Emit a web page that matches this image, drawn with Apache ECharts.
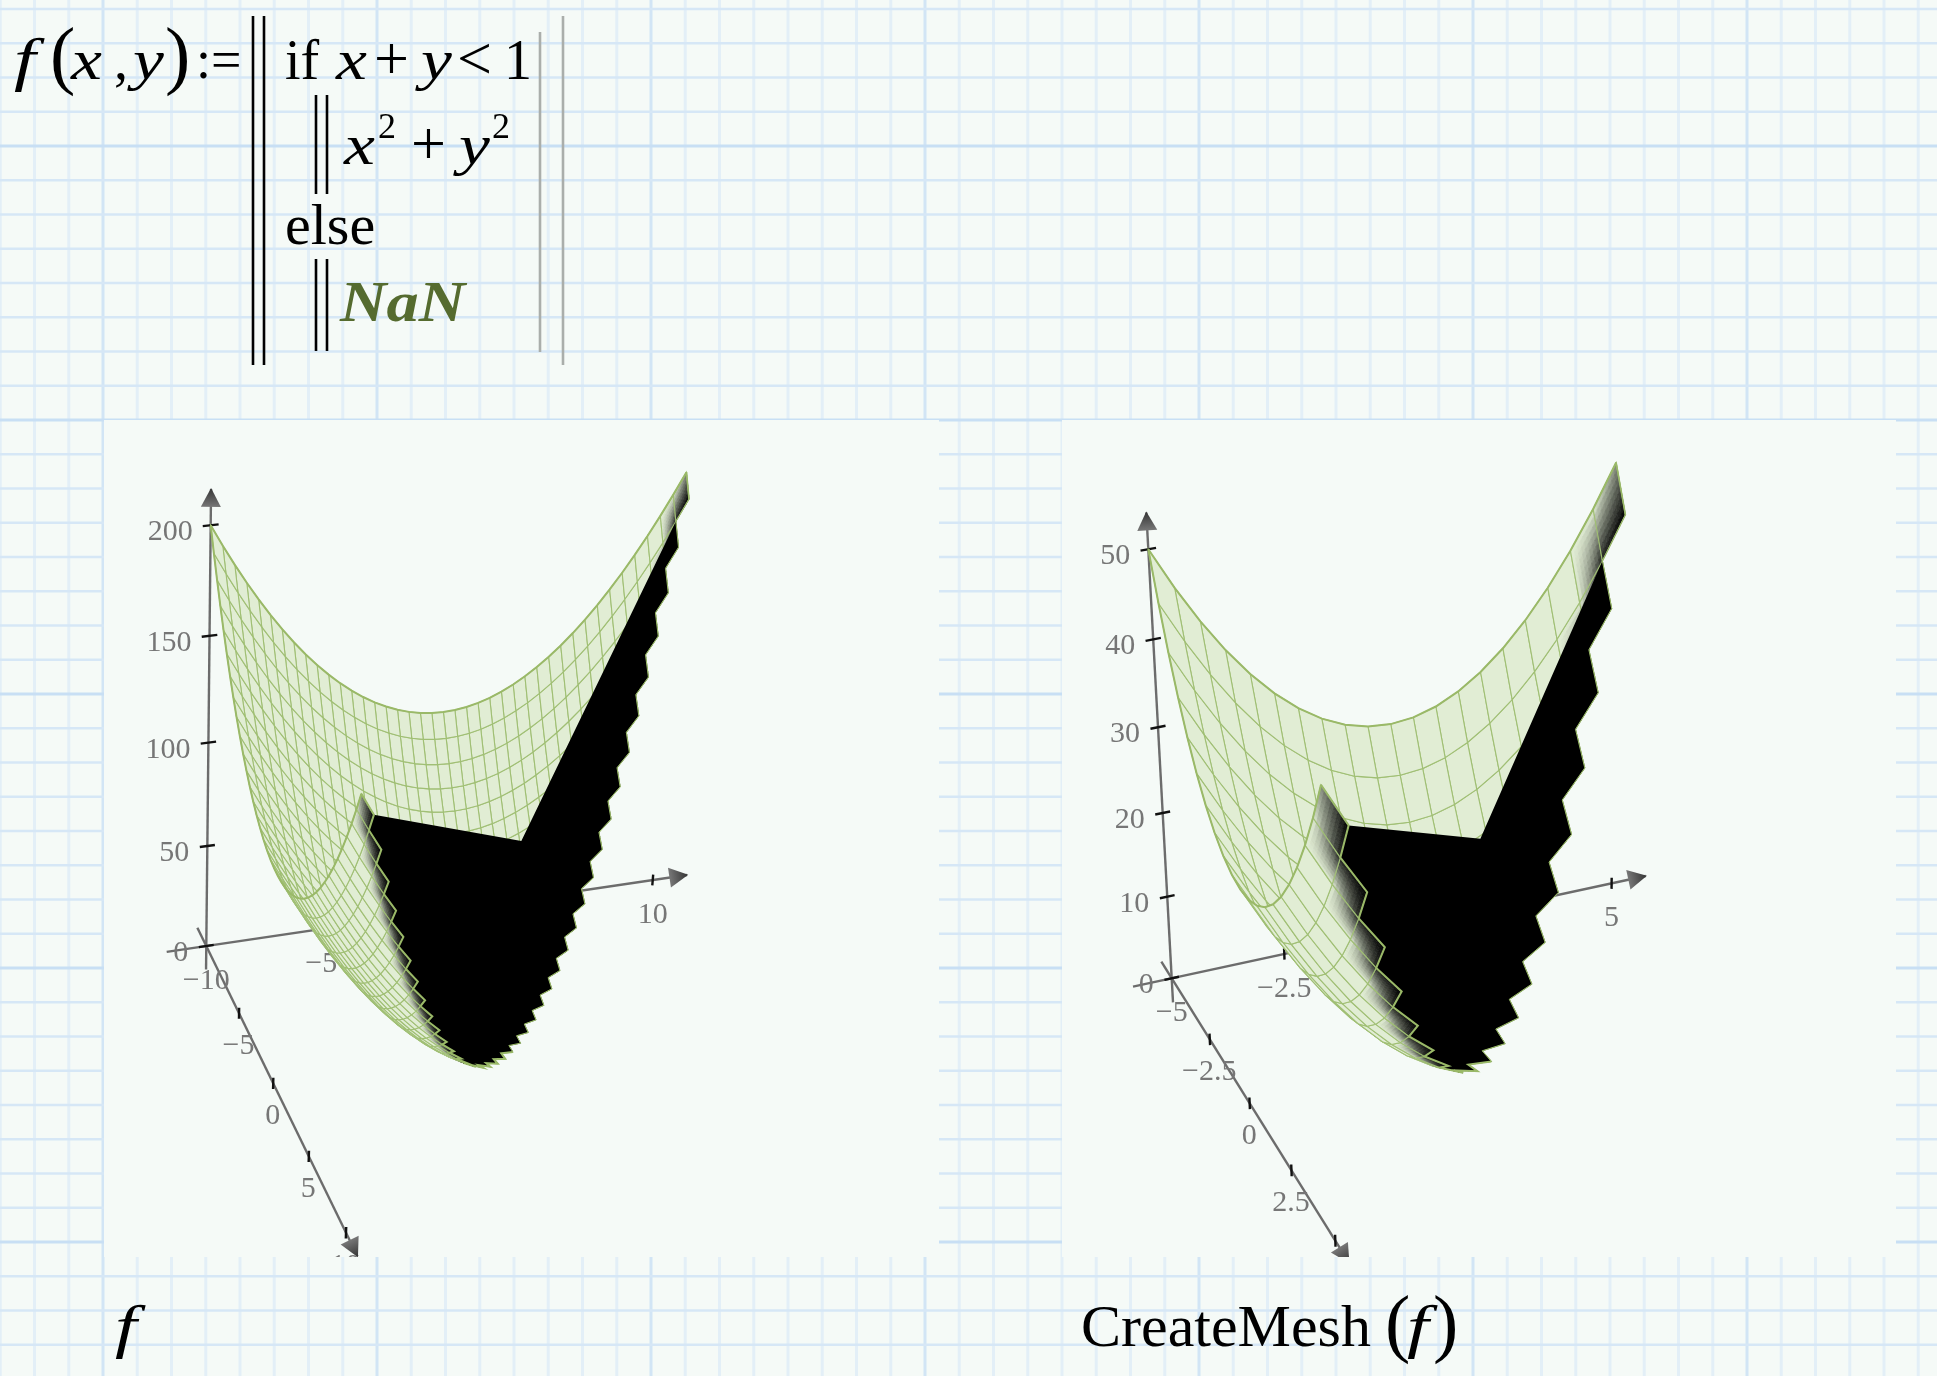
<!DOCTYPE html>
<html><head><meta charset="utf-8"><style>html,body{margin:0;padding:0;background:#f5faf7}#c{width:1937px;height:1376px}</style>
<script src="https://cdn.jsdelivr.net/npm/echarts@6/dist/echarts.min.js"></script></head><body><div id="c"></div>
<script>
// Mesh positions of the left chart (f): x index = row, y index = column
const gridF = [-10,-9.5,-9,-8.5,-8,-7.5,-7,-6.5,-6,-5.5,-5,-4.5,-4,-3.5,-3,-2.5,-2,-1.5,-1,-0.5,0,0.5,1,1.5,2,2.5,3,3.5,4,4.5,5,5.5,6,6.5,7,7.5,8,8.5,9,9.5,10];
// Mesh positions of the right chart (CreateMesh(f))
const gridMesh = [-5,-4.5,-4,-3.5,-3,-2.5,-2,-1.5,-1,-0.5,0,0.5,1,1.5,2,2.5,3,3.5,4,4.5,5];
// Heights: each row stops where x+y reaches 1 (NaN past that point)
const zRowsF = [
[200,190.25,181,172.25,164,156.25,149,142.25,136,130.25,125,120.25,116,112.25,109,106.25,104,102.25,101,100.25,100,100.25,101,102.25,104,106.25,109,112.25,116,120.25,125,130.25,136,142.25,149,156.25,164,172.25,181,190.25,200],
[190.25,180.5,171.25,162.5,154.25,146.5,139.25,132.5,126.25,120.5,115.25,110.5,106.25,102.5,99.25,96.5,94.25,92.5,91.25,90.5,90.25,90.5,91.25,92.5,94.25,96.5,99.25,102.5,106.25,110.5,115.25,120.5,126.25,132.5,139.25,146.5,154.25,162.5,171.25,180.5,190.25],
[181,171.25,162,153.25,145,137.25,130,123.25,117,111.25,106,101.25,97,93.25,90,87.25,85,83.25,82,81.25,81,81.25,82,83.25,85,87.25,90,93.25,97,101.25,106,111.25,117,123.25,130,137.25,145,153.25,162,171.25],
[172.25,162.5,153.25,144.5,136.25,128.5,121.25,114.5,108.25,102.5,97.25,92.5,88.25,84.5,81.25,78.5,76.25,74.5,73.25,72.5,72.25,72.5,73.25,74.5,76.25,78.5,81.25,84.5,88.25,92.5,97.25,102.5,108.25,114.5,121.25,128.5,136.25,144.5,153.25],
[164,154.25,145,136.25,128,120.25,113,106.25,100,94.25,89,84.25,80,76.25,73,70.25,68,66.25,65,64.25,64,64.25,65,66.25,68,70.25,73,76.25,80,84.25,89,94.25,100,106.25,113,120.25,128,136.25],
[156.25,146.5,137.25,128.5,120.25,112.5,105.25,98.5,92.25,86.5,81.25,76.5,72.25,68.5,65.25,62.5,60.25,58.5,57.25,56.5,56.25,56.5,57.25,58.5,60.25,62.5,65.25,68.5,72.25,76.5,81.25,86.5,92.25,98.5,105.25,112.5,120.25],
[149,139.25,130,121.25,113,105.25,98,91.25,85,79.25,74,69.25,65,61.25,58,55.25,53,51.25,50,49.25,49,49.25,50,51.25,53,55.25,58,61.25,65,69.25,74,79.25,85,91.25,98,105.25],
[142.25,132.5,123.25,114.5,106.25,98.5,91.25,84.5,78.25,72.5,67.25,62.5,58.25,54.5,51.25,48.5,46.25,44.5,43.25,42.5,42.25,42.5,43.25,44.5,46.25,48.5,51.25,54.5,58.25,62.5,67.25,72.5,78.25,84.5,91.25],
[136,126.25,117,108.25,100,92.25,85,78.25,72,66.25,61,56.25,52,48.25,45,42.25,40,38.25,37,36.25,36,36.25,37,38.25,40,42.25,45,48.25,52,56.25,61,66.25,72,78.25],
[130.25,120.5,111.25,102.5,94.25,86.5,79.25,72.5,66.25,60.5,55.25,50.5,46.25,42.5,39.25,36.5,34.25,32.5,31.25,30.5,30.25,30.5,31.25,32.5,34.25,36.5,39.25,42.5,46.25,50.5,55.25,60.5,66.25],
[125,115.25,106,97.25,89,81.25,74,67.25,61,55.25,50,45.25,41,37.25,34,31.25,29,27.25,26,25.25,25,25.25,26,27.25,29,31.25,34,37.25,41,45.25,50,55.25],
[120.25,110.5,101.25,92.5,84.25,76.5,69.25,62.5,56.25,50.5,45.25,40.5,36.25,32.5,29.25,26.5,24.25,22.5,21.25,20.5,20.25,20.5,21.25,22.5,24.25,26.5,29.25,32.5,36.25,40.5,45.25],
[116,106.25,97,88.25,80,72.25,65,58.25,52,46.25,41,36.25,32,28.25,25,22.25,20,18.25,17,16.25,16,16.25,17,18.25,20,22.25,25,28.25,32,36.25],
[112.25,102.5,93.25,84.5,76.25,68.5,61.25,54.5,48.25,42.5,37.25,32.5,28.25,24.5,21.25,18.5,16.25,14.5,13.25,12.5,12.25,12.5,13.25,14.5,16.25,18.5,21.25,24.5,28.25],
[109,99.25,90,81.25,73,65.25,58,51.25,45,39.25,34,29.25,25,21.25,18,15.25,13,11.25,10,9.25,9,9.25,10,11.25,13,15.25,18,21.25],
[106.25,96.5,87.25,78.5,70.25,62.5,55.25,48.5,42.25,36.5,31.25,26.5,22.25,18.5,15.25,12.5,10.25,8.5,7.25,6.5,6.25,6.5,7.25,8.5,10.25,12.5,15.25],
[104,94.25,85,76.25,68,60.25,53,46.25,40,34.25,29,24.25,20,16.25,13,10.25,8,6.25,5,4.25,4,4.25,5,6.25,8,10.25],
[102.25,92.5,83.25,74.5,66.25,58.5,51.25,44.5,38.25,32.5,27.25,22.5,18.25,14.5,11.25,8.5,6.25,4.5,3.25,2.5,2.25,2.5,3.25,4.5,6.25],
[101,91.25,82,73.25,65,57.25,50,43.25,37,31.25,26,21.25,17,13.25,10,7.25,5,3.25,2,1.25,1,1.25,2,3.25],
[100.25,90.5,81.25,72.5,64.25,56.5,49.25,42.5,36.25,30.5,25.25,20.5,16.25,12.5,9.25,6.5,4.25,2.5,1.25,0.5,0.25,0.5,1.25],
[100,90.25,81,72.25,64,56.25,49,42.25,36,30.25,25,20.25,16,12.25,9,6.25,4,2.25,1,0.25,0,0.25],
[100.25,90.5,81.25,72.5,64.25,56.5,49.25,42.5,36.25,30.5,25.25,20.5,16.25,12.5,9.25,6.5,4.25,2.5,1.25,0.5,0.25],
[101,91.25,82,73.25,65,57.25,50,43.25,37,31.25,26,21.25,17,13.25,10,7.25,5,3.25,2,1.25],
[102.25,92.5,83.25,74.5,66.25,58.5,51.25,44.5,38.25,32.5,27.25,22.5,18.25,14.5,11.25,8.5,6.25,4.5,3.25],
[104,94.25,85,76.25,68,60.25,53,46.25,40,34.25,29,24.25,20,16.25,13,10.25,8,6.25],
[106.25,96.5,87.25,78.5,70.25,62.5,55.25,48.5,42.25,36.5,31.25,26.5,22.25,18.5,15.25,12.5,10.25],
[109,99.25,90,81.25,73,65.25,58,51.25,45,39.25,34,29.25,25,21.25,18,15.25],
[112.25,102.5,93.25,84.5,76.25,68.5,61.25,54.5,48.25,42.5,37.25,32.5,28.25,24.5,21.25],
[116,106.25,97,88.25,80,72.25,65,58.25,52,46.25,41,36.25,32,28.25],
[120.25,110.5,101.25,92.5,84.25,76.5,69.25,62.5,56.25,50.5,45.25,40.5,36.25],
[125,115.25,106,97.25,89,81.25,74,67.25,61,55.25,50,45.25],
[130.25,120.5,111.25,102.5,94.25,86.5,79.25,72.5,66.25,60.5,55.25],
[136,126.25,117,108.25,100,92.25,85,78.25,72,66.25],
[142.25,132.5,123.25,114.5,106.25,98.5,91.25,84.5,78.25],
[149,139.25,130,121.25,113,105.25,98,91.25],
[156.25,146.5,137.25,128.5,120.25,112.5,105.25],
[164,154.25,145,136.25,128,120.25],
[172.25,162.5,153.25,144.5,136.25],
[181,171.25,162,153.25],
[190.25,180.5,171.25],
[200,190.25]
];
const zRowsMesh = [
[50,45.25,41,37.25,34,31.25,29,27.25,26,25.25,25,25.25,26,27.25,29,31.25,34,37.25,41,45.25,50],
[45.25,40.5,36.25,32.5,29.25,26.5,24.25,22.5,21.25,20.5,20.25,20.5,21.25,22.5,24.25,26.5,29.25,32.5,36.25,40.5,45.25],
[41,36.25,32,28.25,25,22.25,20,18.25,17,16.25,16,16.25,17,18.25,20,22.25,25,28.25,32,36.25],
[37.25,32.5,28.25,24.5,21.25,18.5,16.25,14.5,13.25,12.5,12.25,12.5,13.25,14.5,16.25,18.5,21.25,24.5,28.25],
[34,29.25,25,21.25,18,15.25,13,11.25,10,9.25,9,9.25,10,11.25,13,15.25,18,21.25],
[31.25,26.5,22.25,18.5,15.25,12.5,10.25,8.5,7.25,6.5,6.25,6.5,7.25,8.5,10.25,12.5,15.25],
[29,24.25,20,16.25,13,10.25,8,6.25,5,4.25,4,4.25,5,6.25,8,10.25],
[27.25,22.5,18.25,14.5,11.25,8.5,6.25,4.5,3.25,2.5,2.25,2.5,3.25,4.5,6.25],
[26,21.25,17,13.25,10,7.25,5,3.25,2,1.25,1,1.25,2,3.25],
[25.25,20.5,16.25,12.5,9.25,6.5,4.25,2.5,1.25,0.5,0.25,0.5,1.25],
[25,20.25,16,12.25,9,6.25,4,2.25,1,0.25,0,0.25],
[25.25,20.5,16.25,12.5,9.25,6.5,4.25,2.5,1.25,0.5,0.25],
[26,21.25,17,13.25,10,7.25,5,3.25,2,1.25],
[27.25,22.5,18.25,14.5,11.25,8.5,6.25,4.5,3.25],
[29,24.25,20,16.25,13,10.25,8,6.25],
[31.25,26.5,22.25,18.5,15.25,12.5,10.25],
[34,29.25,25,21.25,18,15.25],
[37.25,32.5,28.25,24.5,21.25],
[41,36.25,32,28.25],
[45.25,40.5,36.25],
[50,45.25]
];
// The point the black NaN area folds around: x, y, height
const foldF = [0,0,100];
const foldMesh = [0,0,25];
// Axis ticks and labels
const xTicksF = [-10,-5,0,5,10];
const yTicksF = [-10,-5,0,5,10];
const zTicksF = [0,50,100,150,200];
const xTicksMesh = [-5,-2.5,0,2.5,5];
const yTicksMesh = [-5,-2.5,0,2.5,5];
const zTicksMesh = [0,10,20,30,40,50];

const SERIF = '"Liberation Serif","Times New Roman",serif';
const PAPER='#f5faf7', FILL=[225,237,212], LINE='#a0bf74', EDGE='#9ab968', AXIS='#6c6c6c', LABEL='#767676';
const plots = [
 {grid:1,rect:[104,420,835,837],xs:gridF,ys:gridF,rows:zRowsF,fold:foldF,xT:xTicksF,yT:yTicksF,zT:zTicksF,zMax:200,
  cam:{ox:206.3,oy:946,ax:464.3,ay:-68.6,bx:128.4,by:263.5,cx:4.1,cy:-393.6,g:.04,h:-.081,i:-.0645},
  fmt:v=>String(v).replace('-','\u2212')},
 {grid:2,rect:[1062,420,834,837],xs:gridMesh,ys:gridMesh,rows:zRowsMesh,fold:foldMesh,xT:xTicksMesh,yT:yTicksMesh,zT:zTicksMesh,zMax:50,
  cam:{ox:1171.7,oy:978.3,ax:454,ay:-98,bx:148.9,by:238.8,cx:-22,cy:-403.3,g:.032,h:-.09,i:-.06},
  fmt:v=>String(v).replace('-','\u2212')}
];
function makeItems(P){
 const c=P.cam,n=P.xs.length,lo=P.xs[0],span=P.xs[n-1]-lo;
 const den=(u,v,w)=>1+c.g*u+c.h*v+c.i*w;
 const pr=(u,v,w)=>{const d=den(u,v,w);return [c.ox+(c.ax*u+c.bx*v+c.cx*w)/d,c.oy+(c.ay*u+c.by*v+c.cy*w)/d];};
 const U=x=>(x-lo)/span;
 const vert=(i,j)=>pr(U(P.xs[i]),U(P.ys[j]),P.rows[i][j]/P.zMax);
 const items=[];
 const axis=(a,b)=>api=>({type:'line',shape:{x1:api.coord(a)[0],y1:api.coord(a)[1],x2:api.coord(b)[0],y2:api.coord(b)[1]},style:{stroke:AXIS,lineWidth:2.4}});
 const tick=(a,b)=>api=>({type:'line',shape:{x1:api.coord(a)[0],y1:api.coord(a)[1],x2:api.coord(b)[0],y2:api.coord(b)[1]},style:{stroke:'#111',lineWidth:2.4}});
 const arrow=(from,tip)=>api=>{
  const t=api.coord(tip),f=api.coord(from);let dx=t[0]-f[0],dy=t[1]-f[1];const l=Math.hypot(dx,dy);dx/=l;dy/=l;
  const bx=t[0]-dx*19,by=t[1]-dy*19;
  return {type:'polygon',shape:{points:[t,[bx-dy*10,by+dx*10],[bx+dy*10,by-dx*10]]},
   style:{fill:{type:'linear',global:true,x:t[0],y:t[1],x2:bx,y2:by,colorStops:[{offset:0,color:'#333'},{offset:1,color:'#777'}]}}};
 };
 const text=(s,at,dx,dy,align)=>api=>{const p=api.coord(at);return {type:'text',style:{text:s,x:p[0]+dx,y:p[1]+dy,font:'30px '+SERIF,fill:LABEL,textAlign:align,textVerticalAlign:'middle'}};};
 items.push(axis(pr(-.085,0,0),pr(1.08,0,0)),axis(pr(0,-.07,0),pr(0,1.075,0)),axis(pr(0,0,-.06),pr(0,0,1.08)));
 items.push(arrow(pr(0.9,0,0),pr(1.083,0,0)),arrow(pr(0,.9,0),pr(0,1.078,0)),arrow(pr(0,0,.9),pr(0,0,1.0825)));
 P.zT.forEach(z=>{const w=z/P.zMax;items.push(tick(pr(-.016,0,w),pr(.016,0,w)),text(P.fmt(z),pr(0,0,w),-18,7,'right'));});
 P.xT.forEach(x=>{const u=U(x);if(u>0)items.push(tick(pr(u,0,-.014),pr(u,0,.014)));items.push(text(P.fmt(x),pr(u,0,0),0,35,'center'));});
 P.yT.forEach(y=>{const v=U(y);if(v>0){items.push(tick(pr(0,v,-.014),pr(0,v,.014)),text(P.fmt(y),pr(0,v,0),-.5,33,'center'));}});
 // surface cells, far ones first
 const cells=[];
 for(let i=0;i<n-1;i++)for(let j=0;j<n-1;j++){
  if(j+1<P.rows[i].length&&j+1<P.rows[i+1].length)cells.push([i,j,den(U(P.xs[i]),U(P.ys[j]),P.rows[i][j]/P.zMax)]);
 }
 cells.sort((a,b)=>b[2]-a[2]);
 const dark=(i,j)=>{const s=P.xs[i]+P.ys[j];if(s<0)return 0;if(s>0)return 1;return (i===0||j===0)?.4:.85;};
 const rgb=t=>'rgb('+FILL.map(f=>Math.round(f*(1-t))).join(',')+')';
 cells.forEach(([i,j])=>{
  items.push(api=>{
   const a=vert(i,j),b=vert(i+1,j),d=vert(i+1,j+1),e=vert(i,j+1);
   const da=dark(i,j),db=dark(i+1,j),dd=dark(i+1,j+1),de=dark(i,j+1);
   const outline={type:'polygon',shape:{points:[a,b,d,e].map(p=>api.coord(p))},style:{fill:rgb(0),stroke:LINE,lineWidth:1.1}};
   if(!(da||db||dd||de))return outline;
   const N=8,kids=[];
   outline.style.fill='none';
   const mix=(s,t)=>[0,1].map(q=>(1-s)*(1-t)*a[q]+s*(1-t)*b[q]+s*t*d[q]+(1-s)*t*e[q]);
   for(let p=0;p<N;p++)for(let q=0;q<N;q++){
    const s=(p+.5)/N,t=(q+.5)/N,k=(1-s)*(1-t)*da+s*(1-t)*db+s*t*dd+(1-s)*t*de,col=rgb(k);
    kids.push({type:'polygon',shape:{points:[mix(p/N,q/N),mix((p+1)/N,q/N),mix((p+1)/N,(q+1)/N),mix(p/N,(q+1)/N)].map(x=>api.coord(x))},style:{fill:col,stroke:col,lineWidth:.6}});
   }
   kids.push(outline);
   return {type:'group',children:kids};
  });
 });
 // black NaN area: fold point plus the staircase along the last valid points of every row
 const chain=[];
 for(let i=n-2;i>=1;i--){const L=P.rows[i].length;chain.push(vert(i,L-2),vert(i,L-1));}
 const foldP=pr(U(P.fold[0]),U(P.fold[1]),P.fold[2]/P.zMax);
 items.push(api=>({type:'polygon',shape:{points:[foldP].concat(chain).map(p=>api.coord(p))},style:{fill:'#000'}}));
 const half=Math.floor(chain.length/2);
 items.push(api=>({type:'polyline',shape:{points:[vert(n-1,1)].concat(chain.slice(0,half+1)).map(p=>api.coord(p))},style:{fill:null,stroke:EDGE,lineWidth:1}}));
 items.push(api=>({type:'polyline',shape:{points:chain.slice(half).concat([vert(0,n-1)]).map(p=>api.coord(p))},style:{fill:null,stroke:EDGE,lineWidth:2}}));
 // thicker outer edges of the sheet
 const edge1=[],edge2=[];
 for(let k=0;k<n;k++){edge1.push(vert(k,0));edge2.push(vert(0,k));}
 items.push(api=>({type:'polyline',shape:{points:edge1.map(p=>api.coord(p))},style:{fill:null,stroke:EDGE,lineWidth:2}}));
 items.push(api=>({type:'polyline',shape:{points:edge2.map(p=>api.coord(p))},style:{fill:null,stroke:EDGE,lineWidth:2}}));
 items.push(api=>({type:'line',shape:{x1:api.coord(vert(n-1,0))[0],y1:api.coord(vert(n-1,0))[1],x2:api.coord(vert(n-1,1))[0],y2:api.coord(vert(n-1,1))[1]},style:{stroke:EDGE,lineWidth:1.6}}));
 return items;
}
const grids=[{left:0,top:0,width:1937,height:1376}],xAxes=[{min:0,max:1937}],yAxes=[{min:0,max:1376}];
plots.forEach(P=>{const r=P.rect;grids.push({left:r[0],top:r[1],width:r[2],height:r[3]});xAxes.push({min:r[0],max:r[0]+r[2]});yAxes.push({min:r[1],max:r[1]+r[3]});});
grids.forEach(g=>g.containLabel=false);
const xAx=xAxes.map((a,k)=>Object.assign(a,{type:'value',gridIndex:k,show:false}));
const yAx=yAxes.map((a,k)=>Object.assign(a,{type:'value',gridIndex:k,show:false,inverse:true}));
// graph paper and the two plot panels
const paper=[];
for(let k=0;k<60;k++){const x=.25+k*34.25;const major=(k-3)%8===0;paper.push(api=>{const a=api.coord([x,0]),b=api.coord([x,1376]);return {type:'line',shape:{x1:a[0],y1:a[1],x2:b[0],y2:b[1]},style:{stroke:major?'#d2e5f5':'#e3eff7',lineWidth:3}};});}
for(let k=0;k<41;k++){const y=9+k*34.25;const major=(k-4)%8===0;paper.push(api=>{const a=api.coord([0,y]),b=api.coord([1937,y]);return {type:'line',shape:{x1:a[0],y1:a[1],x2:b[0],y2:b[1]},style:{stroke:major?'#c8dff4':'#d6e7f6',lineWidth:major?2.8:2.4}};});}
plots.forEach(P=>{const r=P.rect;paper.push(api=>{const a=api.coord([r[0],r[1]]),b=api.coord([r[0]+r[2],r[1]+r[3]]);return {type:'rect',shape:{x:a[0],y:a[1],width:b[0]-a[0],height:b[1]-a[1]},style:{fill:PAPER}};});});
const series=[{type:'custom',xAxisIndex:0,yAxisIndex:0,z:1,silent:true,animation:false,progressive:0,clip:false,data:paper.map(()=>[0,0]),renderItem:(p,api)=>paper[p.dataIndex](api)}];
plots.forEach(P=>{const items=makeItems(P);series.push({type:'custom',xAxisIndex:P.grid,yAxisIndex:P.grid,z:2,silent:true,animation:false,progressive:0,clip:true,data:items.map(()=>[P.rect[0],P.rect[1]]),renderItem:(p,api)=>items[p.dataIndex](api)});});
// formula text: t, left x, baseline y, size, style, colour, horizontal stretch
const tx=[
 ['f',14,78,60,'italic',null,1.3],['(',50,79,76],['x',71,78,58,'italic',null,1.2],[',',114,78,56],['y',133,78,58,'italic',null,1.2],[')',165,79,76],[':=',196,77,54],
 ['if',285,78,56],['x',336,78,58,'italic',null,1.2],['+',374,78,62],['y',421,78,58,'italic',null,1.2],['<',457,78,62],['1',504,78,56],
 ['x',344,163,58,'italic',null,1.2],['2',378,138,36],['+',411,163,62],['y',459,163,58,'italic',null,1.2],['2',492,138,36],
 ['else',285,243,58],['NaN',340,321,56,'italic bold','#556b2f',1.15],
 ['f',115,1345,60,'italic',null,1.3],['CreateMesh',1081,1345,60],['(',1385,1347,76],['f',1407,1345,60,'italic',null,1.3],[')',1433,1347,76]
];
const bars=[[253,16,365,'#000'],[264,16,365,'#000'],[316,95,194,'#000'],[327,95,194,'#000'],[316,259,351,'#000'],[327,259,351,'#000'],[540,32,352,'#aaaeab'],[563,16,365,'#aaaeab']];
const gfx=tx.map(r=>({type:'text',z:5,silent:true,x:r[1],y:r[2]-r[3]*.25,scaleX:r[6]||1,style:{text:r[0],font:(r[4]?r[4]+' ':'')+r[3]+'px '+SERIF,fill:r[5]||'#000',align:'left',verticalAlign:'middle'}}))
 .concat(bars.map(b=>({type:'line',z:5,silent:true,shape:{x1:b[0],y1:b[1],x2:b[0],y2:b[2]},style:{stroke:b[3],lineWidth:b[3]==='#000'?2.6:2.6}})));
const chart=echarts.init(document.getElementById('c'),null,{renderer:'canvas'});
chart.setOption({animation:false,backgroundColor:PAPER,grid:grids,xAxis:xAx,yAxis:yAx,series,graphic:{elements:gfx}});
</script></body></html>
